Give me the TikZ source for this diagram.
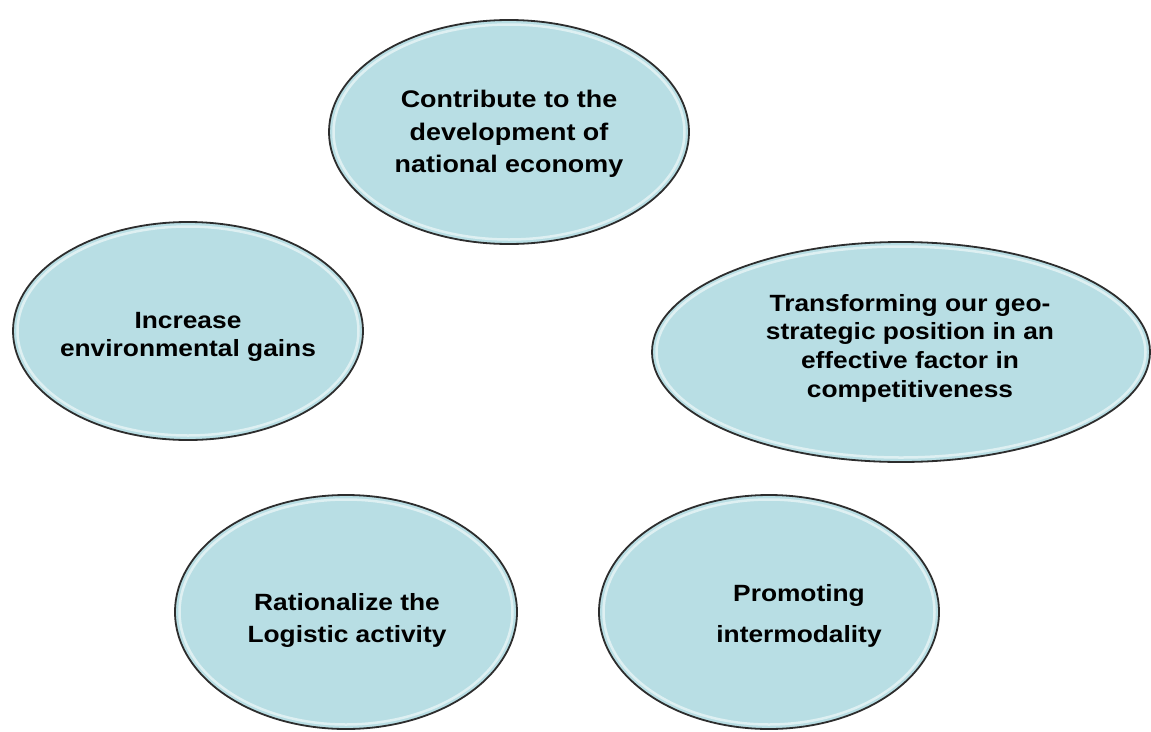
\documentclass[tikz,border=0pt]{standalone}
\usepackage{fontspec}
\setmainfont{Liberation Sans}[FakeStretch=1.12]
\usetikzlibrary{shapes.geometric}
\definecolor{ellfill}{RGB}{184,222,228}
\definecolor{ellline}{RGB}{45,45,45}
\tikzset{
  oval/.style={ellipse, draw=ellline, line width=1.8pt, fill=ellfill, inner sep=0pt},
  hilite/.style={draw=white, opacity=0.55, line width=2.5pt},
  label/.style={align=center, text=black, inner sep=0pt}
}
\newcommand\ovalbubble[5]{%
  \node[oval, minimum width=#4*2pt, minimum height=#5*2pt] (#1) at (#2,#3) {};
  \draw[hilite] (#1.center) ellipse [x radius=#4-4.5, y radius=#5-4.5];
}
\begin{document}
\begin{tikzpicture}[x=1pt,y=-1pt]
\useasboundingbox (0,0) rectangle (1151,731);
\fill[white] (0,0) rectangle (1151,731);
\ovalbubble{e1}{509}{132}{180}{112}
\ovalbubble{e2}{901}{352}{249}{110}
\ovalbubble{e3}{188}{331}{175}{109}
\ovalbubble{e4}{346}{612}{171}{117}
\ovalbubble{e5}{769}{612}{170}{117}
\node[label, font=\fontsize{24}{32.5}\selectfont\bfseries] (t1) at (509,134)
  {Contribute to the\\development of\\national economy};
\node[label, font=\fontsize{23.5}{28.7}\selectfont\bfseries] (t2) at (910,348)
  {Transforming our geo-\\strategic position in an\\effective factor in\\competitiveness};
\node[label, font=\fontsize{23.5}{28}\selectfont\bfseries] (t3) at (188,337)
  {Increase\\environmental gains};
\node[label, font=\fontsize{23.5}{32}\selectfont\bfseries] (t4) at (347,620)
  {Rationalize the\\Logistic activity};
\node[label, font=\fontsize{23.5}{41}\selectfont\bfseries] (t5) at (799,616)
  {Promoting\\intermodality};
\end{tikzpicture}
\end{document}
